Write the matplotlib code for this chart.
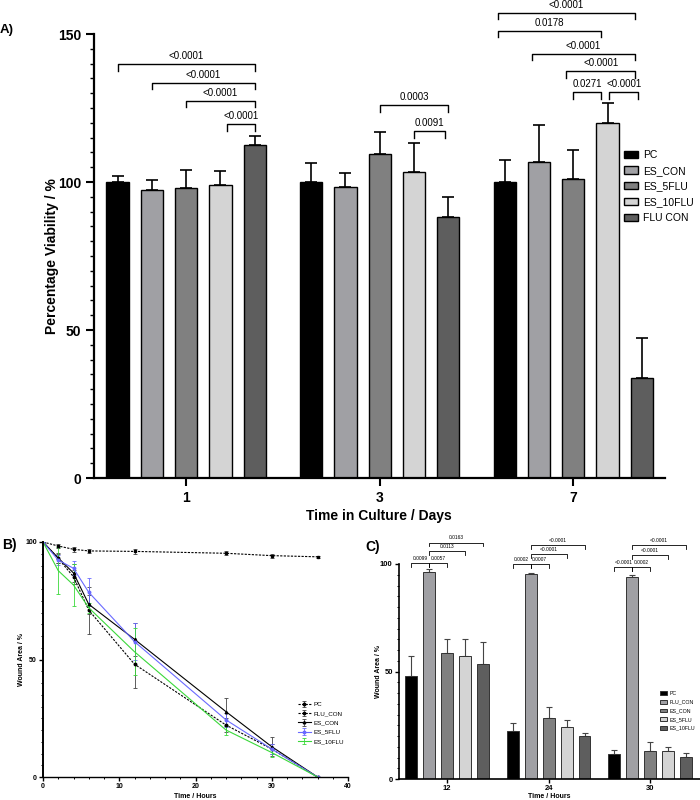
import matplotlib
matplotlib.use('Agg')
import matplotlib.pyplot as plt
from matplotlib.ticker import MultipleLocator
import numpy as np

plt.rcParams['font.family'] = ['Liberation Sans', 'DejaVu Sans']

# ---------------- data: panel A (viability) ----------------
a_days = ['1', '3', '7']
a_names = ['PC', 'ES_CON', 'ES_5FLU', 'ES_10FLU', 'FLU CON']
a_mean = np.array([[100.0, 97.2, 97.9, 99.0, 112.5],
                   [100.0, 98.2, 109.4, 103.5, 88.3],
                   [100.0, 106.8, 101.0, 119.9, 33.7]])
a_err = np.array([[2.1, 3.5, 6.0, 4.7, 3.2],
                  [6.4, 5.0, 7.5, 9.8, 6.6],
                  [7.5, 12.3, 9.7, 6.7, 13.7]])
# (day index, bar a, bar b, bracket height, label)
a_brackets = [(0, 0, 4, 139.8, '<0.0001'), (0, 1, 4, 133.6, '<0.0001'),
              (0, 2, 4, 127.5, '<0.0001'), (0, 3, 4, 119.5, '<0.0001'),
              (1, 2, 4, 126.0, '0.0003'), (1, 3, 4, 117.2, '0.0091'),
              (2, 0, 4, 157.1, '<0.0001'), (2, 0, 3, 151.1, '0.0178'),
              (2, 1, 4, 143.4, '<0.0001'), (2, 2, 4, 137.4, '<0.0001'),
              (2, 2, 3, 130.3, '0.0271'), (2, 3, 4, 130.3, '<0.0001')]

# ---------------- data: panel B (wound area over time) ----------------
b_hours = [0, 2, 4, 6, 12, 24, 30, 36]
b_names = ['PC', 'FLU_CON', 'ES_CON', 'ES_5FLU', 'ES_10FLU']
b_pc = [100, 93.0, 85.2, 71.0, 48.0, 22.1, 11.9, 0]
b_flu = [100, 98.3, 96.9, 96.2, 96.0, 95.2, 94.2, 93.7]
b_es = [100, 93.2, 86.8, 73.5, 58.6, 27.8, 12.9, 0]
b_es5 = [100, 92.3, 88.8, 78.6, 57.6, 24.3, 11.9, 0]
b_es10 = [100, 87.8, 81.7, 72.0, 53.3, 20.0, 10.4, 0]
b_pc_err = [0, 2, 3, 10, 10, 3, 2, 0]
b_flu_err = [0, 1, 1, 1, 1, 0.8, 0.8, 0.5]
b_es_err = [0, 2, 4, 4, 7, 6, 4, 0]
b_es5_err = [0, 2, 3, 6, 8, 3, 2, 0]
b_es10_err = [0, 10, 9, 2, 10, 2, 2, 0]

# ---------------- data: panel C (wound area bars) ----------------
c_hours = ['12', '24', '30']
c_names = ['PC', 'FLU_CON', 'ES_CON', 'ES_5FLU', 'ES_10FLU']
c_mean = np.array([[48.1, 96.1, 58.8, 57.3, 53.6],
                   [22.1, 95.2, 28.2, 24.3, 20.1],
                   [11.6, 94.0, 13.0, 12.8, 10.1]])
c_err = np.array([[9.3, 1.4, 6.1, 8.0, 10.0],
                  [3.8, 0.8, 5.2, 3.1, 1.3],
                  [1.9, 1.0, 4.2, 2.2, 2.1]])
c_brackets = [(0, 0, 1, 100.6, '0.0099'), (0, 1, 2, 100.6, '0.0057'),
              (0, 1, 3, 106.2, '0.0113'), (0, 1, 4, 110.0, '0.0163'),
              (1, 0, 1, 100.0, '0.0002'), (1, 1, 2, 100.0, '0.0007'),
              (1, 1, 3, 104.6, '<0.0001'), (1, 1, 4, 109.0, '<0.0001'),
              (2, 0, 1, 98.5, '<0.0001'), (2, 1, 2, 98.5, '0.0002'),
              (2, 1, 3, 104.2, '<0.0001'), (2, 1, 4, 109.0, '<0.0001')]

# ---------------- styles ----------------
a_colors = ['#000000', '#a0a0a4', '#808080', '#d4d4d4', '#5e5e5e']
c_colors = ['#000000', '#a0a0a4', '#808080', '#d4d4d4', '#5e5e5e']
pitch = 0.177
bw = 0.115
# small horizontal nudges (in bar pitches) of bracket ends, like the original
a_br_dx = [(0, 0), (0, 0), (0, 0), (0.2, 0), (0, 0), (0, -0.1),
           (-0.2, -0.2), (-0.2, -0.2), (-0.2, -0.2), (-0.2, -0.2), (0, -0.2), (0.05, -0.1)]


def bar_x(g, i):
    return g + (i - 2) * pitch


def bracket(ax, x1, x2, y, text, h, pad, fs, lw):
    ax.plot([x1, x1, x2, x2], [y - h, y, y, y - h], color='black', lw=lw, clip_on=False)
    ax.text((x1 + x2) / 2, y + pad, text, ha='center', va='bottom', fontsize=fs, clip_on=False)


fig = plt.figure(figsize=(7, 8), dpi=100)

# ===================== A =====================
ax = fig.add_axes([94/700, 1-478/800, 571/700, 444/800])
for i, name in enumerate(a_names):
    xs = [bar_x(g, i) for g in range(len(a_days))]
    ax.bar(xs, a_mean[:, i], width=bw, color=a_colors[i], edgecolor='black', lw=1.0,
           label=name, zorder=2)
    ax.errorbar(xs, a_mean[:, i], yerr=[np.zeros(3), a_err[:, i]], fmt='none',
                ecolor='black', elinewidth=1.2, capsize=4, capthick=1.2, zorder=1)
for k, (g, i, j, y, lab) in enumerate(a_brackets):
    d1, d2 = a_br_dx[k]
    bracket(ax, bar_x(g, i) + d1*pitch, bar_x(g, j) + d2*pitch, y, lab, 2.2, 1.0, 7, 1.0)

ax.set_xlim(-0.476, 2.474)
ax.set_ylim(0, 150)
ax.set_xticks(range(3))
ax.set_xticklabels(a_days)
ax.set_yticks([0, 50, 100, 150])
ax.yaxis.set_minor_locator(MultipleLocator(5))
ax.spines['top'].set_visible(False)
ax.spines['right'].set_visible(False)
ax.spines['left'].set_linewidth(1.6)
ax.spines['bottom'].set_linewidth(1.6)
ax.tick_params(axis='both', which='major', length=6, width=1.5, labelsize=10, pad=3)
ax.tick_params(axis='y', which='minor', length=3, width=1.0)
for lab in ax.get_xticklabels() + ax.get_yticklabels():
    lab.set_fontweight('bold')
ax.set_ylabel('Percentage Viability / %', fontsize=10, fontweight='bold')
ax.yaxis.set_label_coords(-0.061, 0.5)
ax.set_xlabel('Time in Culture / Days', fontsize=10, fontweight='bold')
ax.xaxis.set_label_coords(0.499, -0.07)
ax.legend(loc='upper left', bbox_to_anchor=(624/700, 1-150/800), bbox_transform=fig.transFigure,
          frameon=False, fontsize=7.5, handlelength=1.3, handleheight=0.7, handletextpad=0.5,
          labelspacing=0.55, borderaxespad=0, borderpad=0)
fig.text(0/700, 1-30/800, 'A)', fontsize=9.5, fontweight='bold', va='center', ha='left')

# ===================== B =====================
bx = fig.add_axes([43/700, 1-777/800, 305/700, 235/800])
b_series = [(b_pc, b_pc_err, 'black', (0, (2, 1.2)), 'o', '#444444'),
            (b_flu, b_flu_err, 'black', (0, (2, 1.2)), 's', '#444444'),
            (b_es, b_es_err, 'black', '-', '^', '#444444'),
            (b_es5, b_es5_err, '#6a6aff', '-', 'o', '#6a6aff'),
            (b_es10, b_es10_err, '#3ad83a', '-', None, '#3ad83a')]
for (vals, errs, col, ls, mk, ecol), name in zip(b_series, b_names):
    bx.errorbar(b_hours, vals, yerr=errs, color=col, ls=ls, lw=0.8, marker=mk, ms=1.8,
                ecolor=ecol, elinewidth=0.6, capsize=1.2, capthick=0.6, label=name)
bx.set_xlim(0, 40)
bx.set_ylim(0, 100)
bx.set_xticks([0, 10, 20, 30, 40])
bx.set_yticks([0, 50, 100])
bx.xaxis.set_minor_locator(MultipleLocator(2))
bx.yaxis.set_minor_locator(MultipleLocator(5))
bx.spines['top'].set_visible(False)
bx.spines['right'].set_visible(False)
bx.spines['left'].set_linewidth(1.4)
bx.spines['bottom'].set_linewidth(1.0)
bx.tick_params(axis='both', which='major', length=3, width=1.0, labelsize=5, pad=1.5)
bx.tick_params(axis='both', which='minor', length=1.5, width=0.7)
for lab in bx.get_xticklabels() + bx.get_yticklabels():
    lab.set_fontweight('bold')
bx.set_ylabel('Wound Area / %', fontsize=5, fontweight='bold')
bx.yaxis.set_label_coords(-0.059, 0.5)
bx.set_xlabel('Time / Hours', fontsize=5, fontweight='bold')
bx.xaxis.set_label_coords(0.5, -0.068)
bx.legend(loc='upper left', bbox_to_anchor=(298/700, 1-702/800), bbox_transform=fig.transFigure,
          frameon=False, fontsize=4.5, handlelength=2.0, handletextpad=0.5, labelspacing=0.6,
          borderaxespad=0, borderpad=0)
fig.text(2/700, 1-545/800, 'B)', fontsize=10, fontweight='bold', va='center', ha='left')

# ===================== C =====================
cx = fig.add_axes([399/700, 1-779/800, 301/700, 215/800])
for i, name in enumerate(c_names):
    xs = [bar_x(g, i) for g in range(len(c_hours))]
    cx.bar(xs, c_mean[:, i], width=bw, color=c_colors[i], edgecolor='#333333', lw=0.7,
           label=name, zorder=2)
    cx.errorbar(xs, c_mean[:, i], yerr=[np.zeros(3), c_err[:, i]], fmt='none',
                ecolor='#444444', elinewidth=0.8, capsize=2.2, capthick=0.8, zorder=1)
for g, i, j, y, lab in c_brackets:
    bracket(cx, bar_x(g, i), bar_x(g, j), y, lab, 1.8, 1.0, 3.5, 0.6)
cx.set_xlim(-0.474, 2.49)
cx.set_ylim(0, 100)
cx.set_xticks(range(3))
cx.set_xticklabels(c_hours)
cx.set_yticks([0, 50, 100])
cx.yaxis.set_minor_locator(MultipleLocator(5))
cx.spines['top'].set_visible(False)
cx.spines['right'].set_visible(False)
cx.spines['left'].set_linewidth(1.2)
cx.spines['bottom'].set_linewidth(1.2)
cx.tick_params(axis='both', which='major', length=3, width=1.0, labelsize=5.5, pad=1.5)
cx.tick_params(axis='y', which='minor', length=1.5, width=0.7)
for lab in cx.get_xticklabels() + cx.get_yticklabels():
    lab.set_fontweight('bold')
cx.set_ylabel('Wound Area / %', fontsize=5, fontweight='bold')
cx.yaxis.set_label_coords(-0.056, 0.5)
cx.set_xlabel('Time / Hours', fontsize=5, fontweight='bold')
cx.xaxis.set_label_coords(0.5, -0.065)
cx.legend(loc='upper left', bbox_to_anchor=(660/700, 1-691/800), bbox_transform=fig.transFigure,
          frameon=False, fontsize=3.8, handlelength=1.3, handleheight=0.7, handletextpad=0.5,
          labelspacing=0.7, borderaxespad=0, borderpad=0)
fig.text(365/700, 1-547/800, 'C)', fontsize=10, fontweight='bold', va='center', ha='left')

fig.savefig('out.png', dpi=100)
